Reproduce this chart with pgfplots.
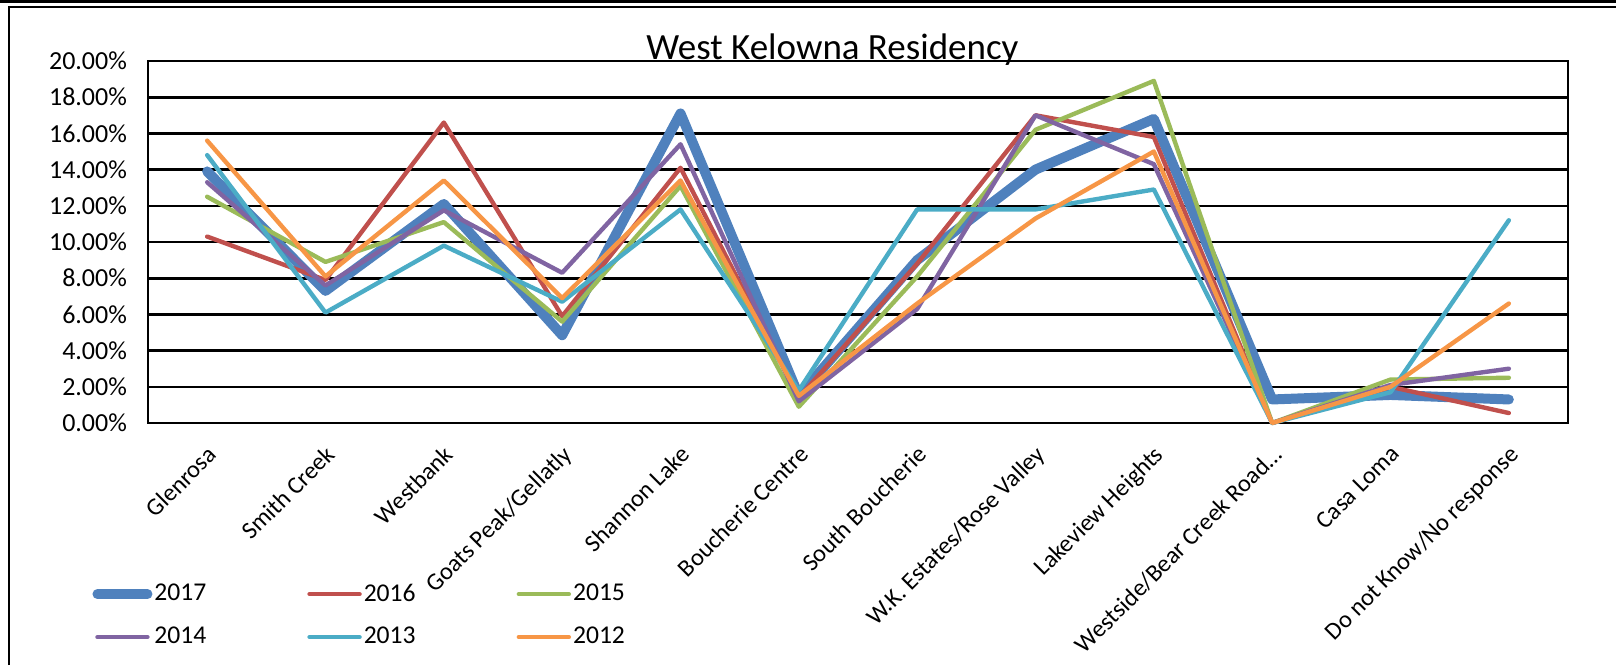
\documentclass[border=0pt]{standalone}
\usepackage{fontspec}
\setmainfont{Carlito}
\usepackage{pgfplots}
\pgfplotsset{compat=1.18}
\definecolor{c17}{HTML}{4F81BD}
\definecolor{c16}{HTML}{C0504D}
\definecolor{c15}{HTML}{9BBB59}
\definecolor{c14}{HTML}{8064A2}
\definecolor{c13}{HTML}{4BACC6}
\definecolor{c12}{HTML}{F79646}

\begin{document}
\begin{tikzpicture}
\begin{axis}[
    at={(74pt,121pt)}, anchor=south west,
    scale only axis, width=710pt, height=181pt,
    xmin=-0.5, xmax=11.5, ymin=0, ymax=20,
    clip=false,
    xtick={0,...,11},
    xticklabels={Glenrosa, Smith Creek, Westbank, Goats Peak/Gellatly, Shannon Lake,
      Boucherie Centre, South Boucherie, W.K. Estates/Rose Valley, Lakeview Heights,
      Westside/Bear Creek Road…, Casa Loma, Do not Know/No response},
    ytick={0,2,...,20},
    yticklabel={\pgfmathprintnumber[fixed,fixed zerofill,precision=2]{\tick}\%},
    /pgf/number format/assume math mode=true,
    tick style={draw=none},
    ymajorgrids,
    major grid style={black, line width=1.3pt},
    axis line style={black, line width=0.8pt},
    yticklabel style={font=\fontsize{13}{15}\selectfont, xshift=-7pt},
    xticklabel style={xshift=-0.6pt, yshift=-10.4pt, rotate=45, anchor=north east,
      inner sep=0pt, font=\fontsize{12.2}{14}\selectfont},
    title={West Kelowna Residency},
    title style={at={(0.482,1)}, anchor=base, yshift=-5pt, font=\fontsize{18.5}{22}\selectfont},
    legend columns=3,
    legend cell align=left,
    legend image code/.code={\draw[#1] (0pt,0pt) -- (25pt,0pt);},
    legend style={at={(-0.0394,-0.438)}, anchor=north west, draw=none, fill=none,
      inner sep=0pt, row sep=9.5pt, font=\fontsize{12.8}{15}\selectfont,
      nodes={inner sep=1pt},
      /tikz/every even column/.append style={column sep=49.5pt}},
    every axis plot/.append style={line cap=round, line join=round},
]
\addplot[c17, line width=5pt] coordinates {(0,13.9) (1,7.3) (2,12.1) (3,4.85) (4,17.1) (5,1.5) (6,9.0) (7,14.0) (8,16.8) (9,1.3) (10,1.55) (11,1.3)};
\addplot[c16, line width=2.2pt] coordinates {(0,10.3) (1,7.9) (2,16.6) (3,5.9) (4,14.1) (5,1.4) (6,8.8) (7,17.0) (8,15.8) (9,0.0) (10,2.0) (11,0.55)};
\addplot[c15, line width=2.2pt] coordinates {(0,12.5) (1,8.9) (2,11.1) (3,5.6) (4,13.1) (5,0.9) (6,8.1) (7,16.2) (8,18.9) (9,0.0) (10,2.4) (11,2.5)};
\addplot[c14, line width=2.2pt] coordinates {(0,13.3) (1,7.6) (2,11.75) (3,8.3) (4,15.4) (5,1.2) (6,6.3) (7,17.0) (8,14.3) (9,0.0) (10,2.1) (11,3.0)};
\addplot[c13, line width=2.2pt] coordinates {(0,14.8) (1,6.1) (2,9.8) (3,6.7) (4,11.8) (5,1.8) (6,11.8) (7,11.8) (8,12.9) (9,0.0) (10,1.7) (11,11.2)};
\addplot[c12, line width=2.2pt] coordinates {(0,15.6) (1,8.1) (2,13.4) (3,6.9) (4,13.4) (5,1.5) (6,6.6) (7,11.3) (8,15.0) (9,0.0) (10,2.0) (11,6.6)};
\legend{2017, 2016, 2015, 2014, 2013, 2012}
\end{axis}
\draw[line width=1.5pt] (0pt,331.75pt) -- (808pt,331.75pt);
\draw[line width=0.75pt] (4.5pt,0pt) -- (4.5pt,329pt) -- (808pt,329pt);
\pgfresetboundingbox
\path[use as bounding box] (0pt,0pt) rectangle (808pt,332.5pt);
\end{tikzpicture}
\end{document}
